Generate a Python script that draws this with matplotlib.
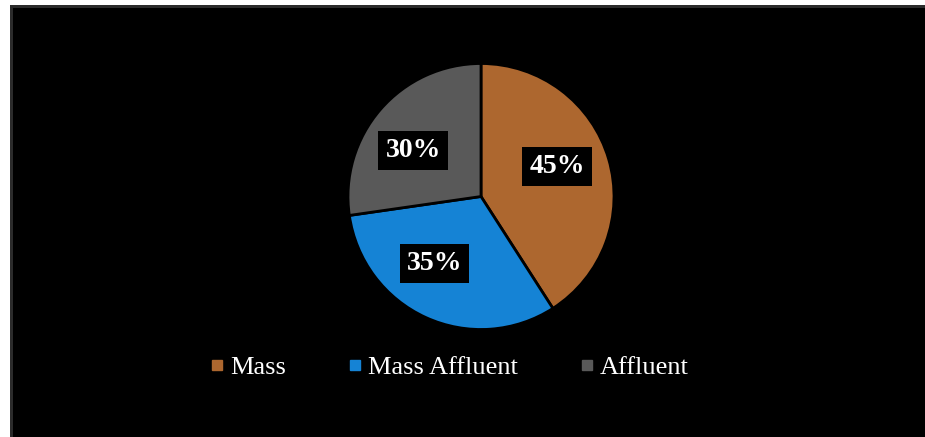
import matplotlib.pyplot as plt
import numpy as np
from matplotlib.lines import Line2D
from matplotlib.patches import Rectangle

segments = ["Mass", "Mass Affluent", "Affluent"]
shares = [45, 35, 30]
colors = ["#AD672F", "#1583D5", "#595959"]

plt.rcParams["font.family"] = ["Liberation Serif", "DejaVu Serif"]

W, H = 925, 437
fig = plt.figure(figsize=(W / 100, H / 100), dpi=100, facecolor="white")

# black chart area with a dark frame on top / left
fig.patches.append(Rectangle((10 / W, 0), 1, 1 - 5 / H, transform=fig.transFigure,
                             facecolor="#2b2b2b", edgecolor="none", zorder=-10))
fig.patches.append(Rectangle((13 / W, 0), 1, 1 - 8 / H, transform=fig.transFigure,
                             facecolor="black", edgecolor="none", zorder=-9))

cx, cy, r = 481, 196.5, 133
ax = fig.add_axes([(cx - r) / W, (H - cy - r) / H, 2 * r / W, 2 * r / H])
ax.set_facecolor("none")
wedges, _ = ax.pie(shares, colors=colors, startangle=90, counterclock=False,
                   wedgeprops=dict(edgecolor="black", linewidth=2))
ax.set_xlim(-1, 1)
ax.set_ylim(-1, 1)
ax.axis("off")

# data labels in black boxes; small angular nudges to sit like the original
nudge = [5, -10, 7]
for w, v, dn in zip(wedges, shares, nudge):
    ang = np.deg2rad((w.theta1 + w.theta2) / 2 + dn)
    ax.text(0.615 * np.cos(ang), 0.615 * np.sin(ang), f"{v}%",
            ha="center", va="center", color="white", fontsize=20, fontweight="bold",
            bbox=dict(boxstyle="square,pad=0.25", facecolor="black", edgecolor="none"))

handles = [Line2D([], [], ls="none", marker="s", markersize=7.3, color=c) for c in colors]
leg = fig.legend(handles, segments, loc="center", bbox_to_anchor=(0.487, 1 - 367 / H),
                 ncol=3, frameon=False, fontsize=19, labelcolor="white",
                 handlelength=0.4, handletextpad=0.3, columnspacing=2.4)

fig.savefig("out.png", dpi=100, facecolor="white")
